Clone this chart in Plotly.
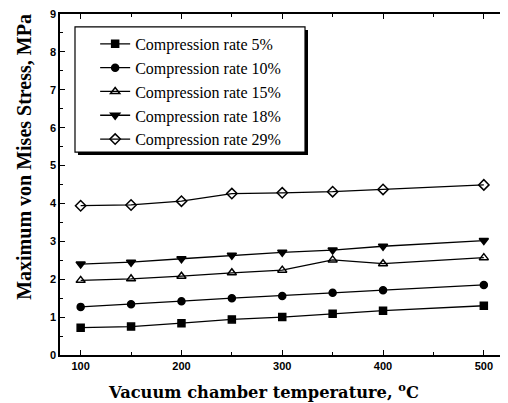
import plotly.graph_objects as go

temperature = [100, 150, 200, 250, 300, 350, 400, 500]

rate_5 = [0.72, 0.75, 0.84, 0.94, 1.00, 1.09, 1.17, 1.30]
rate_10 = [1.27, 1.34, 1.42, 1.50, 1.56, 1.64, 1.71, 1.85]
rate_15 = [1.97, 2.01, 2.08, 2.17, 2.24, 2.51, 2.41, 2.57]
rate_18 = [2.40, 2.45, 2.54, 2.63, 2.71, 2.77, 2.87, 3.02]
rate_29 = [3.94, 3.96, 4.06, 4.26, 4.28, 4.31, 4.37, 4.49]

series = [
    ("Compression rate 5%", rate_5, "square", 7),
    ("Compression rate 10%", rate_10, "circle", 7),
    ("Compression rate 15%", rate_15, "triangle-up-open", 8),
    ("Compression rate 18%", rate_18, "triangle-down", 8),
    ("Compression rate 29%", rate_29, "diamond-open", 8),
]

serif = "Liberation Serif, Times New Roman, serif"
wide_serif = "DejaVu Serif, serif"
sans = "Liberation Sans, Arial, sans-serif"

fig = go.Figure()
for name, vals, symbol, size in series:
    fig.add_trace(go.Scatter(
        x=temperature, y=vals, name=name, mode="lines+markers",
        line=dict(color="black", width=1.3),
        marker=dict(symbol=symbol, size=size, color="black",
                    line=dict(color="black", width=1.5)),
    ))

axis_common = dict(
    showline=True, linecolor="black", linewidth=1.5, mirror="ticks",
    ticks="inside", ticklen=5, tickwidth=1, tickcolor="black",
    showgrid=False, zeroline=False, automargin=False,
    ticklabeloverflow="allow",
    tickfont=dict(family=sans, size=11, color="black", weight="bold"),
)

fig.update_xaxes(
    range=[79.5, 521], tickvals=[100, 200, 300, 400, 500],
    minor=dict(tickvals=[150, 250, 350, 450], ticks="inside", ticklen=3, tickcolor="black"),
    **axis_common,
)
fig.update_yaxes(
    range=[0, 9], dtick=1,
    minor=dict(dtick=0.5, ticks="inside", ticklen=3, tickcolor="black"),
    **axis_common,
)

# axis titles sit off-centre in the original, so place them as annotations
fig.add_annotation(text="Vacuum chamber temperature, <sup>o</sup>C",
                   xref="paper", yref="paper", x=0.458, y=-0.106,
                   xanchor="center", yanchor="middle", showarrow=False,
                   font=dict(family=wide_serif, size=16.3, color="black", weight="bold"))
fig.add_annotation(text="Maximum von Mises Stress, MPa", textangle=-90,
                   xref="paper", yref="paper", x=-0.081, y=0.581,
                   xanchor="center", yanchor="middle", showarrow=False,
                   font=dict(family=serif, size=20, color="black", weight="bold"))

# legend frame with a drop shadow, as in the original figure
fig.add_shape(type="rect", xref="paper", yref="paper", layer="above",
              x0=0.0404, x1=0.5573, y0=0.5865, y1=0.953,
              line=dict(width=0), fillcolor="black")
fig.add_shape(type="rect", xref="paper", yref="paper", layer="above",
              x0=0.0337, x1=0.5506, y0=0.595, y1=0.962,
              line=dict(width=1.2, color="black"), fillcolor="white")

# page body has an 8px margin, so the figure is sized to fit inside it
fig.update_layout(
    width=500, height=395,
    margin=dict(l=52, r=3, t=6, b=48),
    plot_bgcolor="white", paper_bgcolor="white",
    legend=dict(
        x=0.079, y=0.962, xanchor="left", yanchor="top",
        bgcolor="rgba(0,0,0,0)", borderwidth=0,
        font=dict(family=serif, size=16, color="black"),
        tracegroupgap=0, itemwidth=30,
    ),
    showlegend=True,
)

fig.write_html("out.html")
